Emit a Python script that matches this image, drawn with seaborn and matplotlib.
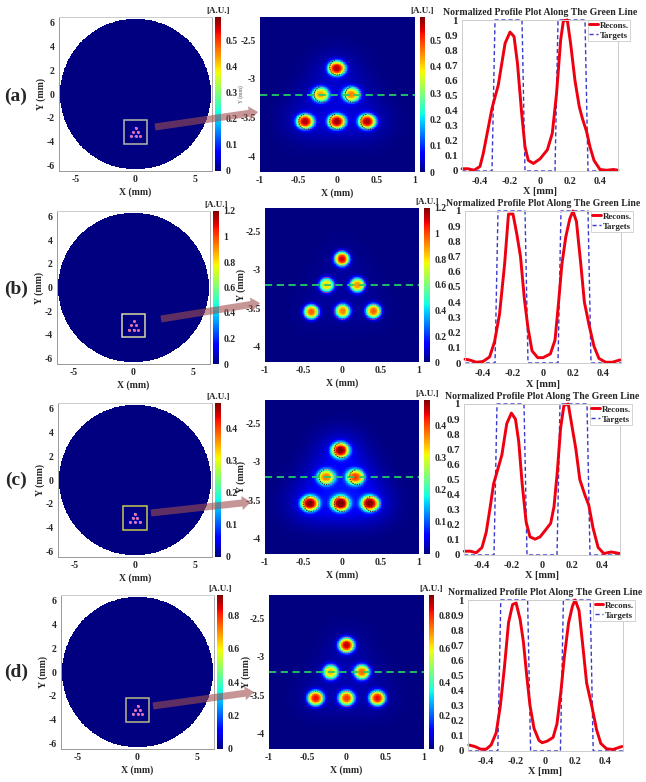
import numpy as np
import matplotlib
matplotlib.use("Agg")
import matplotlib.pyplot as plt
from matplotlib.patches import Circle, Arc, Rectangle, FancyArrow
from matplotlib.transforms import IdentityTransform
import seaborn as sns

W, H = 646, 782

# --- values ---
row_names = ['(a)', '(b)', '(c)', '(d)']
cbar_max = [0.59, 1.2, 0.48, 0.92]
cbar_ticks = [[0, 0.1, 0.2, 0.3, 0.4, 0.5],
              [0, 0.2, 0.4, 0.6, 0.8, 1, 1.2],
              [0, 0.1, 0.2, 0.3, 0.4],
              [0, 0.2, 0.4, 0.6, 0.8]]

target_cx = [0, -0.2, 0.2, -0.4, 0, 0.4]
target_cy = [-2.85, -3.2, -3.2, -3.55, -3.55, -3.55]

spot_x = [[-0.01, -0.22, 0.18, -0.42, -0.01, 0.385],
          [0.0, -0.2, 0.2, -0.4, 0.01, 0.41],
          [-0.02, -0.21, 0.175, -0.42, -0.02, 0.365],
          [0.0, -0.205, 0.2, -0.4, 0.0, 0.4]]
spot_y = [[-2.86, -3.2, -3.2, -3.55, -3.55, -3.55],
          [-2.86, -3.2, -3.2, -3.55, -3.54, -3.54],
          [-2.85, -3.2, -3.2, -3.545, -3.545, -3.545],
          [-2.85, -3.2, -3.2, -3.54, -3.54, -3.54]]
spot_amp = [[0.53, 0.40, 0.42, 0.53, 0.53, 0.53],
            [1.08, 0.80, 0.88, 0.95, 0.90, 0.95],
            [0.43, 0.32, 0.35, 0.43, 0.43, 0.43],
            [0.84, 0.62, 0.70, 0.80, 0.75, 0.80]]
spot_sigma = [0.076, 0.074, 0.08, 0.077]
spot_stretch = [1.18, 1.03, 1.15, 1.05]
spot_halo = [0.05, 0.02, 0.09, 0.03]

target_x = [-0.52, -0.32, -0.30, -0.12, -0.10, 0.10, 0.12, 0.30, 0.32, 0.52]
target_y = [0, 0, 1, 1, 0, 0, 1, 1, 0, 0]

prof_x_a = [-0.52, -0.48, -0.44, -0.40, -0.378, -0.32, -0.278, -0.233, -0.20, -0.173,
            -0.15, -0.122, -0.10, -0.078, -0.044, 0.0, 0.049, 0.082, 0.11, 0.138,
            0.156, 0.182, 0.204, 0.233, 0.262, 0.282, 0.311, 0.333, 0.36, 0.40,
            0.444, 0.49, 0.52]
prof_y_a = [0.015, 0.015, 0.005, 0.03, 0.117, 0.415, 0.57, 0.845, 0.92, 0.89,
            0.71, 0.38, 0.16, 0.07, 0.05, 0.08, 0.14, 0.25, 0.51, 0.87,
            0.995, 1.0, 0.845, 0.60, 0.425, 0.35, 0.26, 0.16, 0.07, 0.01,
            0.005, 0.01, 0.005]

prof_x_b = [-0.52, -0.49, -0.444, -0.40, -0.356, -0.323, -0.29, -0.256, -0.23, -0.20,
            -0.175, -0.15, -0.124, -0.10, -0.073, -0.035, 0.0, 0.049, 0.08, 0.104,
            0.126, 0.152, 0.179, 0.20, 0.223, 0.252, 0.276, 0.307, 0.34, 0.373,
            0.418, 0.462, 0.513]
prof_y_b = [0.025, 0.02, 0.005, 0.01, 0.04, 0.14, 0.32, 0.65, 0.98, 0.98,
            0.85, 0.70, 0.42, 0.23, 0.08, 0.035, 0.035, 0.06, 0.15, 0.40,
            0.65, 0.83, 0.95, 1.0, 0.93, 0.65, 0.40, 0.25, 0.11, 0.03,
            0.005, 0.005, 0.02]

prof_x_c = [-0.518, -0.478, -0.438, -0.40, -0.372, -0.345, -0.323, -0.30, -0.268, -0.235,
            -0.204, -0.177, -0.155, -0.133, -0.106, -0.08, -0.046, -0.013, 0.027, 0.058,
            0.08, 0.102, 0.124, 0.146, 0.175, 0.197, 0.226, 0.252, 0.285, 0.312,
            0.34, 0.374, 0.412, 0.462, 0.518]
prof_y_c = [0.025, 0.025, 0.015, 0.05, 0.15, 0.32, 0.47, 0.55, 0.66, 0.87,
            0.94, 0.90, 0.75, 0.48, 0.22, 0.12, 0.105, 0.12, 0.17, 0.21,
            0.32, 0.55, 0.84, 0.99, 1.0, 0.87, 0.70, 0.50, 0.40, 0.33,
            0.18, 0.05, 0.01, 0.02, 0.01]

prof_x_d = [-0.515, -0.475, -0.435, -0.398, -0.365, -0.331, -0.303, -0.276, -0.248, -0.221,
            -0.197, -0.17, -0.148, -0.126, -0.104, -0.077, -0.044, -0.022, 0.011, 0.051,
            0.077, 0.104, 0.126, 0.155, 0.181, 0.199, 0.225, 0.25, 0.276, 0.31,
            0.343, 0.371, 0.409, 0.453, 0.513]
prof_y_d = [0.04, 0.03, 0.012, 0.012, 0.04, 0.12, 0.30, 0.55, 0.85, 0.97,
            0.98, 0.87, 0.72, 0.50, 0.30, 0.15, 0.07, 0.055, 0.065, 0.09,
            0.18, 0.40, 0.62, 0.85, 0.96, 1.0, 0.93, 0.70, 0.45, 0.30,
            0.14, 0.05, 0.015, 0.01, 0.03]

prof_x = [prof_x_a, prof_x_b, prof_x_c, prof_x_d]
prof_y = [prof_y_a, prof_y_b, prof_y_c, prof_y_d]

# --- layout in pixels, one entry per row ---
left_box = [(59, 17, 212, 171), (57, 211, 210, 364), (58, 403, 212, 557), (61, 595, 214, 749)]
left_cb = [(215, 221), (213, 219), (215, 221), (217, 223)]
left_ylabel_x = [42, 40, 41, 44]
mid_box = [(260, 17, 415, 172), (265, 208, 419, 362), (265, 400, 419, 554), (269, 595, 424, 749)]
mid_cb = [(420, 425), (424, 430), (424, 430), (429, 434)]
mid_ylabel_x = [240, 242, 242, 247]
right_box = [(462, 20, 618, 171), (465, 211, 621, 363), (464, 404, 620, 555), (468, 600, 623, 751)]
arrows = [(155, 127, 258, 112), (161, 319, 260, 303), (151, 513, 251, 502), (153, 706, 254, 692)]
label_y = [96, 289, 480, 672]
square_col = ['#B8B8A8', '#D8D8A0', '#C8C850', '#B8B888']

sns.set_style("white")
plt.rcParams['font.family'] = ['Liberation Serif', 'DejaVu Serif']
plt.rcParams['font.weight'] = 'bold'
plt.rcParams['axes.labelweight'] = 'bold'
plt.rcParams['axes.titleweight'] = 'bold'
plt.rcParams['axes.unicode_minus'] = False

fig = plt.figure(figsize=(W / 100, H / 100), dpi=100)


def add_axes(x0, y0, x1, y1):
    return fig.add_axes([x0 / W, 1 - y1 / H, (x1 - x0) / W, (y1 - y0) / H])


def spots_field(xs, ys, row, shrink):
    xx, yy = np.meshgrid(xs, ys)
    out = np.zeros_like(xx)
    s = spot_sigma[row] * shrink
    for cx, cy, a in zip(spot_x[row], spot_y[row], spot_amp[row]):
        r = np.hypot((xx - cx) / spot_stretch[row], yy - cy)
        out += a * np.exp(-0.5 * (r / s) ** 3)
        out += a * spot_halo[row] * np.exp(-0.5 * (r / (0.2 * shrink)) ** 2)
    return xx, yy, out


def style_cbar(cax, row):
    cax.set_yticks(cbar_ticks[row])
    cax.set_yticklabels([str(t) for t in cbar_ticks[row]])
    cax.tick_params(length=0, pad=3, labelsize=7)
    cax.set_title('[A.U.]', fontsize=6.5, pad=3)


def heat_panel(box, cb, xlim, ylim, n, row, circle_r=None, shrink=1.0):
    ax = add_axes(*box)
    cax = add_axes(cb[0], box[1], cb[1], box[3])
    xs = np.linspace(xlim[0], xlim[1], n)
    ys = np.linspace(ylim[1], ylim[0], n)
    xx, yy, z = spots_field(xs, ys, row, shrink)
    mask = None
    if circle_r is not None:
        mask = np.hypot(xx, yy) > circle_r
    sns.heatmap(z, ax=ax, cmap='jet', vmin=0, vmax=cbar_max[row], mask=mask, cbar_ax=cax,
                xticklabels=False, yticklabels=False, rasterized=True)
    style_cbar(cax, row)
    # transparent axes on top, carries the real mm scale
    ov = add_axes(*box)
    ov.patch.set_alpha(0)
    ov.set_xlim(*xlim)
    ov.set_ylim(*ylim)
    return ov


def place_labels(ax, box, ylabel_x=None):
    # label spots measured in pixels from the axes box
    h = box[3] - box[1]
    ax.xaxis.set_label_coords(0.5, -16 / h)
    if ylabel_x is not None:
        ax.yaxis.set_label_coords((ylabel_x + 4 - box[0]) / (box[2] - box[0]), 0.5)


for row in range(4):
    # --- wide view ---
    ov = heat_panel(left_box[row], left_cb[row], (-6.4, 6.4), (-6.45, 6.45), 420, row, circle_r=6.32, shrink=0.5)
    sns.scatterplot(x=target_cx, y=target_cy, ax=ov, color='#E070B0', s=5, linewidth=0, legend=False)
    ov.add_patch(Rectangle((-1, -4.2), 2, 2, fill=False, ec=square_col[row], lw=1.1))
    ov.set_xticks([-5, 0, 5])
    ov.set_yticks([-6, -4, -2, 0, 2, 4, 6])
    ov.tick_params(direction='in', length=1.5, width=0.5, color='#999999', labelsize=7, pad=3)
    ov.set_xlabel('X (mm)', fontsize=7)
    ov.set_ylabel('Y (mm)', fontsize=7)
    place_labels(ov, left_box[row], left_ylabel_x[row])
    for side, col in zip(['left', 'bottom', 'top', 'right'], ['#999999', '#999999', '#cccccc', '#aaaaaa']):
        ov.spines[side].set_color(col)
        ov.spines[side].set_linewidth(0.7)

    # --- zoomed view ---
    ov = heat_panel(mid_box[row], mid_cb[row], (-1, 1), (-4.2, -2.2), 240, row)
    for cx, cy in zip(target_cx, target_cy):
        ov.add_patch(Circle((cx, cy), 0.1, fill=False, ec='#E0306E', lw=0.6, ls=(0, (1, 1.2))))
        if row in (0, 2):
            ov.add_patch(Arc((cx, cy), 0.2, 0.2, theta1=110, theta2=290, color='#222222', lw=0.7, ls=(0, (1, 1.4))))
    ov.plot([-1, 1], [-3.2, -3.2], color='#22CC66', lw=1.3, ls=(0, (4, 2.5)), clip_on=False)
    ov.set_xticks([-1, -0.5, 0, 0.5, 1])
    ov.set_xticklabels(['-1', '-0.5', '0', '0.5', '1'])
    ov.set_yticks([-4, -3.5, -3, -2.5])
    ov.set_yticklabels(['-4', '-3.5', '-3', '-2.5'])
    ov.tick_params(length=0, labelsize=7, pad=3)
    ov.set_xlabel('X (mm)', fontsize=7)
    if row == 0:
        ov.set_ylabel('Y (mm)', fontsize=4, alpha=0.55)
    else:
        ov.set_ylabel('Y (mm)', fontsize=7)
    place_labels(ov, mid_box[row], mid_ylabel_x[row])
    for s in ov.spines.values():
        s.set_visible(False)

    # --- profile along the green line ---
    ax = add_axes(*right_box[row])
    sns.lineplot(x=target_x, y=target_y, ax=ax, color='#3A3ACC', lw=1.0, ls=(0, (3, 2)),
                 label='Targets', errorbar=None, sort=False, clip_on=False)
    sns.lineplot(x=prof_x[row], y=prof_y[row], ax=ax, color='#EE0010', lw=2.1,
                 label='Recons.', errorbar=None, sort=False, clip_on=False)
    ax.set_xlim(-0.52, 0.52)
    ax.set_ylim(0, 1)
    ax.set_xticks([-0.4, -0.2, 0, 0.2, 0.4])
    ax.set_xticklabels(['-0.4', '-0.2', '0', '0.2', '0.4'])
    ax.set_yticks(np.arange(0, 11) / 10)
    ax.set_yticklabels(['0', '0.1', '0.2', '0.3', '0.4', '0.5', '0.6', '0.7', '0.8', '0.9', '1'])
    ax.tick_params(direction='in', length=1.5, width=0.5, color='#aaaaaa', pad=3)
    ax.tick_params(axis='x', labelsize=7.3, pad=4)
    ax.tick_params(axis='y', labelsize=7.8, pad=3)
    ax.set_xlabel('X [mm]', fontsize=7.4)
    ax.xaxis.set_label_coords(0.5, -16.5 / (right_box[row][3] - right_box[row][1]))
    ax.set_title('Normalized Profile Plot Along The Green Line', fontsize=7, pad=3.5)
    for s in ax.spines.values():
        s.set_color('#cccccc')
        s.set_linewidth(0.7)
    handles, labels = ax.get_legend_handles_labels()
    leg = ax.legend(handles[::-1], labels[::-1], loc='upper left', bbox_to_anchor=(126 / 156, 1.0),
                    borderaxespad=0, fontsize=6.4, frameon=True, fancybox=False, framealpha=1,
                    edgecolor='#cccccc', borderpad=0.15, labelspacing=0.2, handlelength=0.95,
                    handletextpad=0.2)
    leg.get_frame().set_linewidth(0.6)

    # --- arrow and row label ---
    x0, y0, x1, y1 = arrows[row]
    fig.add_artist(FancyArrow(x0, H - y0, x1 - x0, y0 - y1, width=7, head_width=14, head_length=9,
                              length_includes_head=True, color='#A05050', alpha=0.6, lw=0,
                              transform=IdentityTransform(), zorder=10))
    fig.text(16 / W, 1 - label_y[row] / H, row_names[row], fontsize=14, ha='center', va='center')

fig.savefig('out.png', dpi=100)
